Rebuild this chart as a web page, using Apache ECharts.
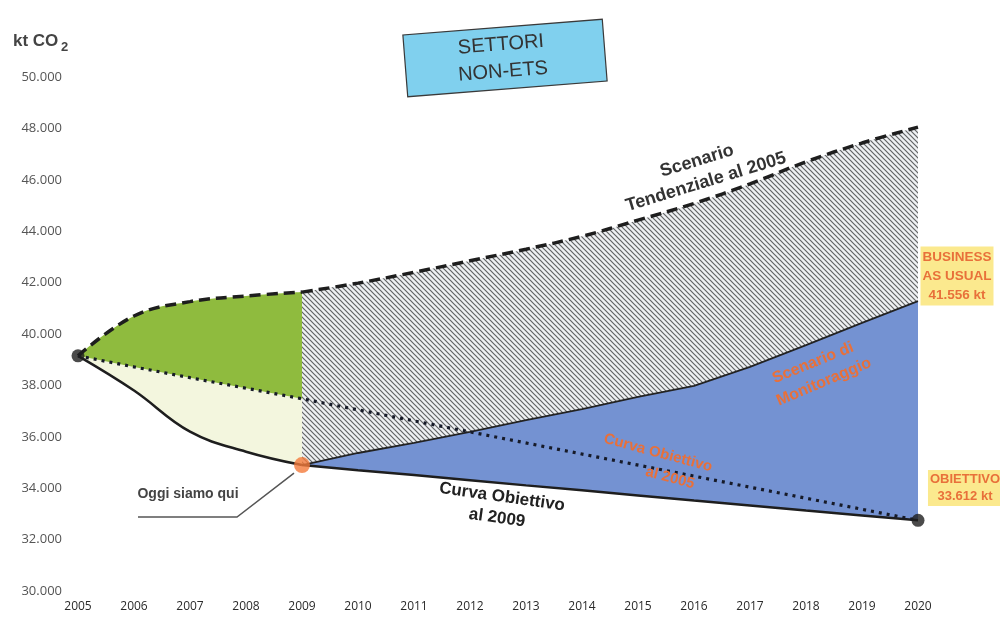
<!DOCTYPE html>
<html>
<head>
<meta charset="utf-8">
<script src="https://cdn.jsdelivr.net/npm/echarts@6/dist/echarts.min.js"></script>
<style>
  html, body { margin: 0; padding: 0; background: #fff; }
  #chart { width: 1000px; height: 621px; }
</style>
</head>
<body>
<div id="chart"></div>
<script>
const years = ['2005', '2006', '2007', '2008', '2009', '2010', '2011', '2012',
  '2013', '2014', '2015', '2016', '2017', '2018', '2019', '2020'];
// kt CO2
const tendenziale = [39150, 40700, 41260, 41480, 41630, 41980, 42400, 42850,
  43300, 43800, 44430, 45080, 45840, 46700, 47430, 48050];
const obiettivo2005 = [39150, 38720, 38300, 37890, 37480, '-', '-', '-',
  '-', '-', '-', '-', '-', '-', '-', 32750];
const obiettivo2009 = [39150, 37800, 36200, 35420, 34900, 34700, 34510, 34310,
  34110, 33920, 33720, 33520, 33330, 33130, 32940, 32750];
const monitoraggio = ['-', '-', '-', '-', 34900, 35370, 35760, 36190,
  36650, 37080, 37550, 37980, 38720, 39570, 40430, 41280];

const fmt = v => (v / 1000).toFixed(3);
const isL = i => i <= 4;
const isR = i => i >= 4;
const pick = (arr, f) => arr.map((v, i) => (f(i) ? v : '-'));
const diff = (a, b, f) => a.map((v, i) => (f(i) ? v - b[i] : '-'));

function hatch() {
  const c = document.createElement('canvas');
  c.width = 5; c.height = 5;
  const g = c.getContext('2d');
  g.fillStyle = '#eff1f3';
  g.fillRect(0, 0, 5, 5);
  g.strokeStyle = '#626466';
  g.lineWidth = 1.2;
  g.beginPath();
  g.moveTo(-1, -1); g.lineTo(6, 6);
  g.moveTo(-1, 4); g.lineTo(1, 6);
  g.moveTo(4, -1); g.lineTo(6, 1);
  g.stroke();
  return c;
}

const black = '#1e1e1e';
const orange = '#e8703a';
const dashed = { color: black, width: 3.5, type: [11, 6] };

const chart = echarts.init(document.getElementById('chart'));
chart.setOption({
  animation: false,
  grid: { left: 78, right: 82, top: 77, bottom: 30 },
  xAxis: {
    type: 'category',
    data: years,
    boundaryGap: false,
    axisLine: { show: false },
    axisTick: { show: false },
    axisLabel: { margin: 10, color: '#2a2a2a', fontSize: 12, fontFamily: 'Open Sans' },
    splitLine: { show: false }
  },
  yAxis: {
    type: 'value',
    min: 30000,
    max: 50000,
    interval: 2000,
    axisLine: { show: false },
    axisTick: { show: false },
    splitLine: { show: false },
    axisLabel: { margin: 16, color: '#555', fontSize: 13, fontFamily: 'Open Sans', formatter: fmt }
  },
  series: [
    { type: 'line', stack: 'L', data: pick(obiettivo2009, isL), smooth: 0.4, symbol: 'none', z: 4,
      lineStyle: { color: black, width: 2.5 } },
    { type: 'line', stack: 'L', data: diff(obiettivo2005, obiettivo2009, isL), symbol: 'none',
      lineStyle: { width: 0, opacity: 0 }, areaStyle: { color: '#f3f6de', opacity: 1 } },
    { type: 'line', stack: 'L', data: diff(tendenziale, obiettivo2005, isL), smooth: 0.4, symbol: 'none',
      lineStyle: dashed, areaStyle: { color: '#8fbb3e', opacity: 1 } },

    { type: 'line', stack: 'R', data: pick(obiettivo2009, isR), symbol: 'none', z: 4,
      lineStyle: { color: black, width: 2.5 } },
    { type: 'line', stack: 'R', data: diff(monitoraggio, obiettivo2009, isR), symbol: 'none', z: 3,
      lineStyle: { color: '#222', width: 1.8 }, areaStyle: { color: '#7492d2', opacity: 1 } },
    { type: 'line', stack: 'R', data: diff(tendenziale, monitoraggio, isR), smooth: 0.4, symbol: 'none',
      lineStyle: dashed, areaStyle: { color: { image: hatch(), repeat: 'repeat' }, opacity: 1 } },

    { type: 'line', data: obiettivo2005, connectNulls: true, symbol: 'none', z: 5,
      lineStyle: { color: '#161a28', width: 3.2, type: [3, 5] } },
    { type: 'scatter', z: 6, data: [
      { value: ['2005', tendenziale[0]], symbolSize: 13, itemStyle: { color: black } },
      { value: ['2009', obiettivo2009[4]], symbolSize: 16, itemStyle: { color: '#f47b3b' } },
      { value: ['2020', obiettivo2009[15]], symbolSize: 13, itemStyle: { color: black } }
    ] }
  ]
});

const deg = d => d * Math.PI / 180;
const today = chart.convertToPixel({ gridIndex: 0 }, ['2009', obiettivo2009[4]]);
const bold = (size, color) => ({ fontSize: size, fontWeight: 'bold', fontFamily: 'Liberation Sans', fill: color });
const label = (x, y, rot, text, size, color) => ({
  type: 'text', x, y, z: 100, rotation: deg(rot),
  style: Object.assign({ text, align: 'center', verticalAlign: 'middle' }, bold(size, color))
});

chart.setOption({
  graphic: [
    { type: 'text', x: 13, y: 33, z: 100, style: Object.assign({ text: 'kt CO' }, bold(17, '#444')) },
    { type: 'text', x: 61, y: 41, z: 100, style: Object.assign({ text: '2' }, bold(13, '#444')) },
    { type: 'group', x: 505, y: 58, z: 100, rotation: deg(4.5), children: [
      { type: 'rect', z: 100, shape: { x: -100, y: -31, width: 200, height: 62 },
        style: { fill: '#80d0ee', stroke: '#3a3a3a', lineWidth: 1.2 } },
      { type: 'text', z: 101, style: { text: 'SETTORI\nNON-ETS', x: -3, y: 0, align: 'center', verticalAlign: 'middle',
        fontSize: 20, fontFamily: 'Liberation Sans', fill: '#333', lineHeight: 27 } }
    ] },
    label(697, 161, 17, 'Scenario', 18, '#333'),
    label(706, 182, 17, 'Tendenziale al 2005', 18, '#333'),
    label(813, 363, 22, 'Scenario di', 16, orange),
    label(824, 382, 23, 'Monitoraggio', 16, orange),
    label(658, 453, -15, 'Curva Obiettivo', 15, orange),
    label(670, 478, -15, 'al 2005', 15, orange),
    label(502, 497, -8, 'Curva Obiettivo', 17, '#222'),
    label(497, 518, -8, 'al 2009', 17, '#222'),
    label(188, 494, 0, 'Oggi siamo qui', 14, '#444'),
    { type: 'polyline', z: 100, shape: { points: [[138, 517], [237, 517], [today[0] - 8, today[1] + 8]] },
      style: { stroke: '#555', lineWidth: 1.5, fill: null } },
    { type: 'text', x: 957, y: 276, z: 100,
      style: Object.assign({ text: 'BUSINESS\nAS USUAL\n41.556 kt', align: 'center', verticalAlign: 'middle',
        lineHeight: 19, backgroundColor: '#fbe98e', padding: [1, 2] }, bold(13.5, orange)) },
    { type: 'text', x: 965, y: 488, z: 100,
      style: Object.assign({ text: 'OBIETTIVO\n33.612 kt', align: 'center', verticalAlign: 'middle',
        lineHeight: 17, backgroundColor: '#fbe98e', padding: [1, 2] }, bold(13, orange)) }
  ]
});
</script>
</body>
</html>
